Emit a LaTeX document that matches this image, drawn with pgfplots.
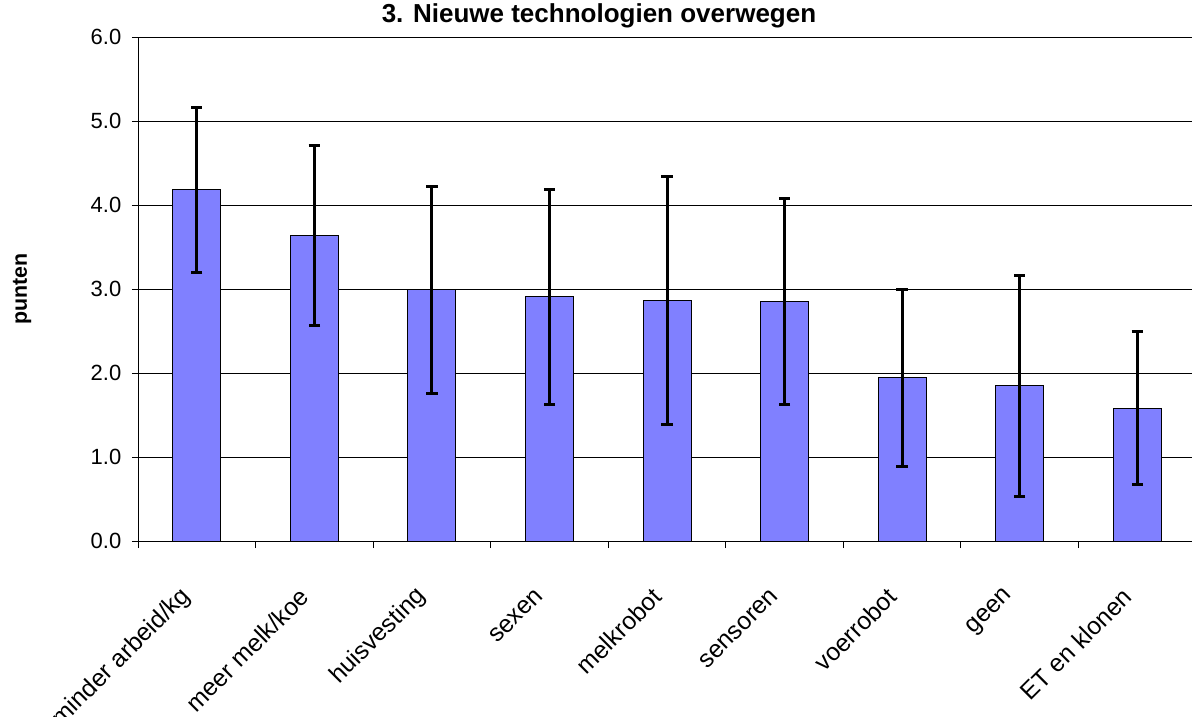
\documentclass[border=0pt]{standalone}
\usepackage{fontspec}
\setmainfont{Liberation Sans}
\usepackage{pgfplots}
\pgfplotsset{compat=1.18}
\usepackage{pgfplotstable}
\definecolor{barblue}{HTML}{8080FF}
\pgfplotstableread{
x y ep em
0 4.18 0.98 0.98
1 3.635 1.075 1.075
2 2.99 1.23 1.23
3 2.91 1.28 1.29
4 2.86 1.48 1.475
5 2.85 1.23 1.23
6 1.95 1.05 1.06
7 1.85 1.31 1.32
8 1.575 0.915 0.905
}\datatable
\begin{document}
\begin{tikzpicture}
\begin{axis}[
  name=ax, scale only axis, width=793.5pt, height=378pt,
  xmin=-0.5, xmax=8.5, ymin=0, ymax=6,
  ybar, bar width=36pt,
  axis lines*=left,
  axis line style={black, line width=0.6pt},
  xtick={0,...,8},
  xticklabels={minder arbeid/kg, meer melk/koe, huisvesting, sexen, melkrobot, sensoren, voerrobot, geen, ET en klonen},
  major x tick style={draw=none},
  minor xtick={-0.5,0.5,...,8.5},
  minor x tick style={draw=black, line width=0.6pt},
  minor tick length=5.25pt,
  ytick={0,1,...,6},
  tick align=outside, major tick length=4.5pt,
  y tick style={black, line width=0.6pt},
  y tick label style={xshift=-4.5pt, font=\fontsize{16.5}{19}\selectfont, /pgf/number format/fixed, /pgf/number format/fixed zerofill, /pgf/number format/precision=1, /pgf/number format/assume math mode=true},
  x tick label style={rotate=45, anchor=east, xshift=-26pt, yshift=-19pt, font=\fontsize{18.5}{22}\selectfont},
  ymajorgrids, grid style={black, line width=0.6pt},
  ylabel={\textbf{punten}},
  ylabel style={at={(rel axis cs:-0.1096,0.5)}, anchor=center, font=\fontsize{16}{19}\selectfont},
  title={\textbf{3. Nieuwe technologien overwegen}},
  title style={at={(rel axis cs:0.4357,1.0258)}, anchor=center, font=\fontsize{19.5}{23}\selectfont},
]
\addplot[fill=barblue, draw=black, line width=0.75pt,
  error bars/.cd, y dir=both, y explicit, error mark=|,
  error bar style={line width=2.25pt, black},
  error mark options={line width=2.25pt, mark size=4.25pt, black}]
  table[x=x, y=y, y error plus=ep, y error minus=em] {\datatable};
\end{axis}
\pgfresetboundingbox
\path[use as bounding box] ([xshift=-103.5pt,yshift=-131.25pt]ax.south west) rectangle ([xshift=-3pt,yshift=27.75pt]ax.north east);
\end{tikzpicture}
\end{document}
